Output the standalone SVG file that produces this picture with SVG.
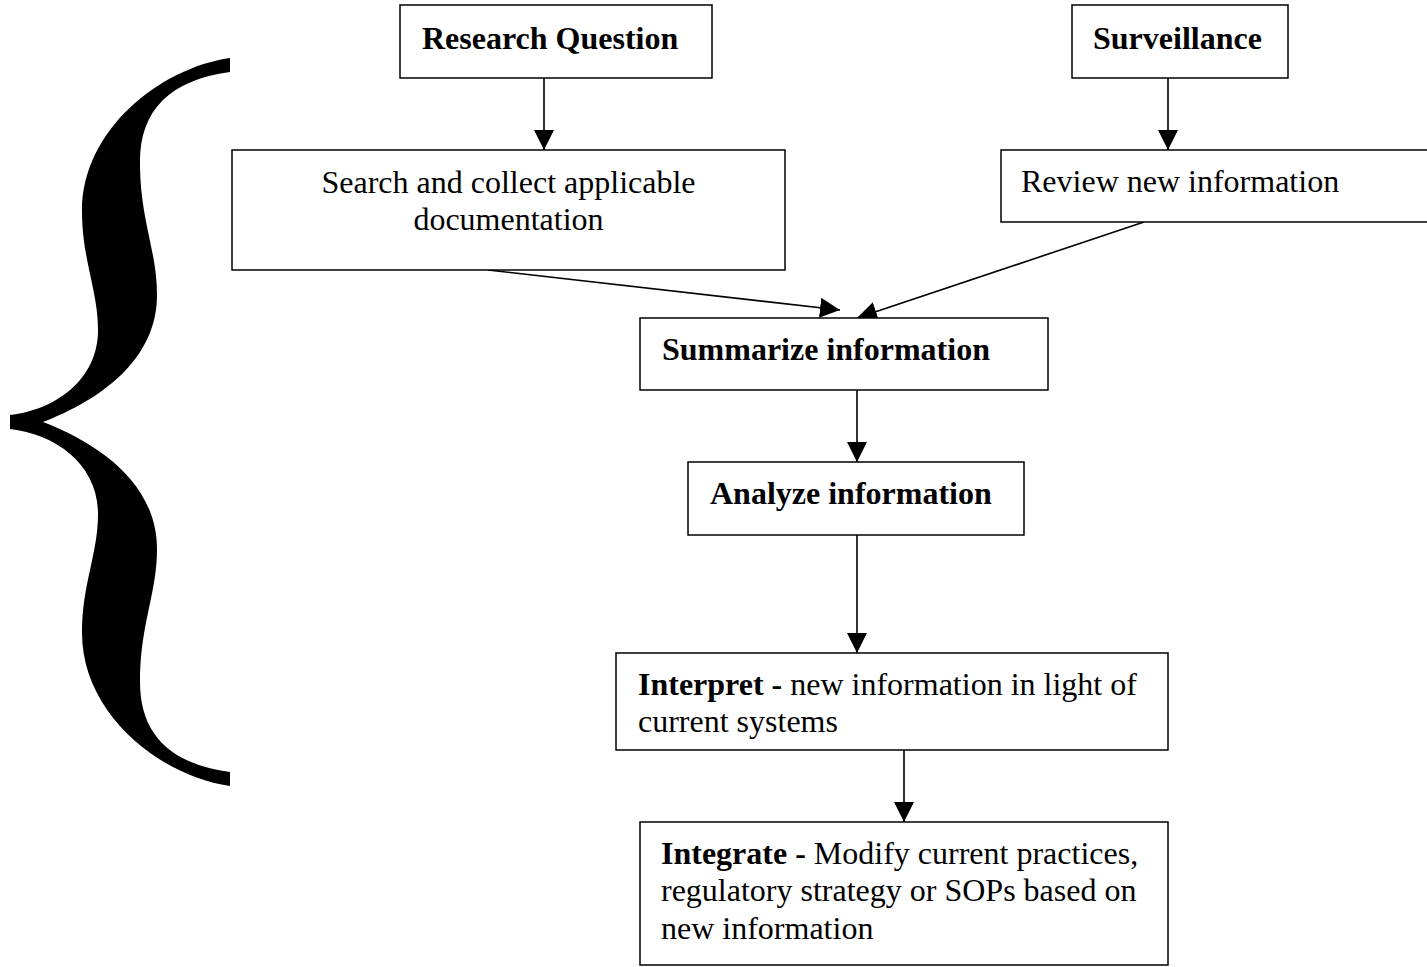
<svg xmlns="http://www.w3.org/2000/svg" width="1427" height="967" viewBox="0 0 1427 967">
<style>
  .box { fill: #ffffff; stroke: #000000; stroke-width: 1.5; }
  .t { font-family: "Liberation Serif", "Times New Roman", serif; font-size: 32px; fill: #000000; }
  .b { font-weight: bold; }
  .conn line { stroke: #000000; stroke-width: 1.6; fill: none; marker-end: url(#arrow); }
</style>
<defs>
  <marker id="arrow" markerUnits="userSpaceOnUse" viewBox="0 0 20 20" refX="20" refY="10" markerWidth="20" markerHeight="20" orient="auto">
    <path d="M0,0 L20,10 L0,20 z" fill="#000000"/>
  </marker>
</defs>
<rect width="1427" height="967" fill="#ffffff"/>

<g id="brace">
  <path fill="#000000" d="M 230 58 C 160 68, 82 130, 82 211 C 82 260, 98 290, 98 330 C 98 380, 55 410, 10 415 L 10 429 C 55 434, 98 464, 98 514 C 98 554, 82 584, 82 633 C 82 714, 160 776, 230 786 L 230 772 C 170 764, 140 734, 140 682 C 140 624, 157 594, 157 549 C 157 484, 100 444, 43 422 C 100 400, 157 360, 157 295 C 157 250, 140 220, 140 162 C 140 110, 170 80, 230 72 Z"/>
</g>

<g class="conn" id="connectors">
  <line x1="544" y1="78" x2="544" y2="150"/>
  <line x1="1168" y1="78" x2="1168" y2="150"/>
  <line x1="488" y1="270" x2="840" y2="310"/>
  <line x1="1144" y1="222" x2="857" y2="318"/>
  <line x1="857" y1="390" x2="857" y2="462"/>
  <line x1="857" y1="535" x2="857" y2="653"/>
  <line x1="904" y1="750" x2="904" y2="822"/>
</g>

<g id="research-question">
  <rect class="box" x="400" y="5" width="312" height="73"/>
  <text class="t b" x="422" y="49">Research Question</text>
</g>

<g id="surveillance">
  <rect class="box" x="1072" y="5" width="216" height="73"/>
  <text class="t b" x="1093" y="49">Surveillance</text>
</g>

<g id="search">
  <rect class="box" x="232" y="150" width="553" height="120"/>
  <text class="t" x="508.5" y="193" text-anchor="middle">Search and collect applicable</text>
  <text class="t" x="508.5" y="230" text-anchor="middle">documentation</text>
</g>

<g id="review">
  <rect class="box" x="1001" y="150" width="440" height="72"/>
  <text class="t" x="1021" y="192">Review new information</text>
</g>

<g id="summarize">
  <rect class="box" x="640" y="318" width="408" height="72"/>
  <text class="t b" x="662" y="360">Summarize information</text>
</g>

<g id="analyze">
  <rect class="box" x="688" y="462" width="336" height="73"/>
  <text class="t b" x="710" y="504">Analyze information</text>
</g>

<g id="interpret">
  <rect class="box" x="616" y="653" width="552" height="97"/>
  <text class="t" x="638" y="695"><tspan class="b">Interpret -</tspan> new information in light of</text>
  <text class="t" x="638" y="732">current systems</text>
</g>

<g id="integrate">
  <rect class="box" x="640" y="822" width="528" height="143"/>
  <text class="t" x="661" y="864"><tspan class="b">Integrate -</tspan> Modify current practices,</text>
  <text class="t" x="661" y="901">regulatory strategy or SOPs based on</text>
  <text class="t" x="661" y="939">new information</text>
</g>
</svg>
